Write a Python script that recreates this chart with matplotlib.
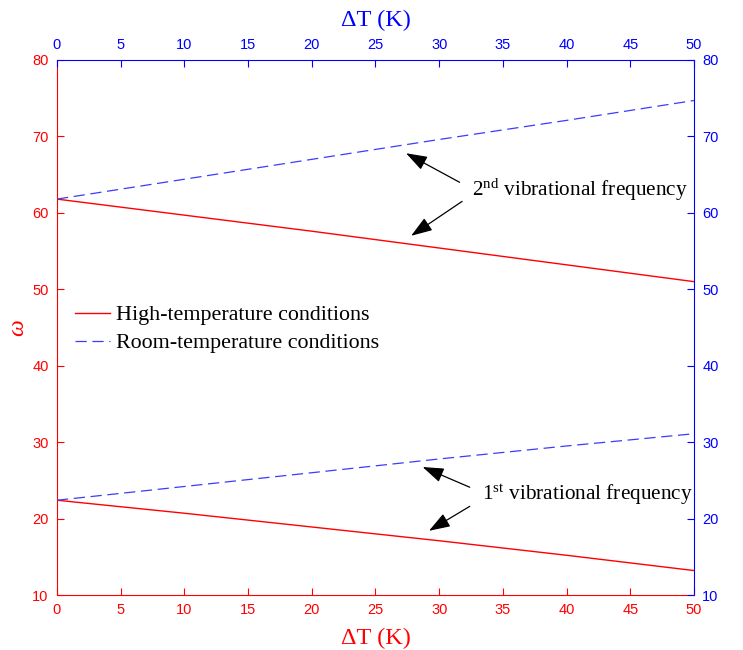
import matplotlib

matplotlib.use("Agg")
import matplotlib.pyplot as plt

plt.rcParams["mathtext.fontset"] = "custom"
plt.rcParams["mathtext.rm"] = "Liberation Serif"
plt.rcParams["mathtext.it"] = "Liberation Serif:italic"

# temperature rise (K) and vibrational frequencies
dT = [0, 10, 20, 30, 40, 50]
high_2nd = [61.8, 59.7, 57.6, 55.4, 53.2, 51.0]
room_2nd = [61.8, 64.4, 67.0, 69.6, 72.1, 74.7]
high_1st = [22.4, 20.7, 18.9, 17.1, 15.2, 13.2]
room_1st = [22.4, 24.2, 26.0, 27.8, 29.5, 31.1]

x_ticks = list(range(0, 55, 5))
y_ticks = list(range(10, 90, 10))

SERIF = "Liberation Serif"
SANS = "Liberation Sans"
BLUE_DASH = "#3b3bff"

fig = plt.figure(figsize=(7.43, 6.5), dpi=100)
rect = [0.0767, 0.0846, 0.8573, 0.8231]
ax = fig.add_axes(rect)
ax2 = fig.add_axes(rect, frameon=False)

l1, = ax.plot(dT, high_2nd, color="red", lw=1.0, label="High-temperature conditions")
ax.plot(dT, high_1st, color="red", lw=1.0)
l2, = ax2.plot(dT, room_2nd, color=BLUE_DASH, lw=0.9, ls=(0, (9, 4.5)),
               label="Room-temperature conditions")
ax2.plot(dT, room_1st, color=BLUE_DASH, lw=0.9, ls=(0, (9, 4.5)))

for a in (ax, ax2):
    a.set_xlim(0, 50)
    a.set_ylim(10, 80)
    a.set_xticks(x_ticks)
    a.set_yticks(y_ticks)

ax.tick_params(direction="in", length=5, colors="red", labelsize=10.5,
               top=False, right=False, pad=6)
ax2.xaxis.tick_top()
ax2.yaxis.tick_right()
ax2.xaxis.set_label_position("top")
ax2.yaxis.set_label_position("right")
ax2.tick_params(direction="in", length=5, colors="blue", labelsize=10.5,
                bottom=False, left=False, pad=6)
for lab in ax.get_xticklabels() + ax.get_yticklabels() + \
        ax2.get_xticklabels() + ax2.get_yticklabels():
    lab.set_family(SANS)

ax.spines["left"].set_color("red")
ax.spines["bottom"].set_color("red")
ax.spines["top"].set_color("blue")
ax.spines["right"].set_color("blue")

ax.set_xlabel("ΔT (K)", color="red", family=SERIF, fontsize=17.5)
ax2.set_xlabel("ΔT (K)", color="blue", family=SERIF, fontsize=17.5)
ax.xaxis.set_label_coords(0.5, -0.062)
ax2.xaxis.set_label_coords(0.5, 1.063)
ax.set_ylabel("ω", color="red", family=SERIF, style="italic", fontsize=17,
              rotation=90)
ax2.set_ylabel("ω", color="blue", family=SERIF, style="italic", fontsize=17,
               rotation=90)
ax.yaxis.set_label_coords(-0.045, 0.5)
ax2.yaxis.set_label_coords(1.074, 0.5)

leg = fig.legend(handles=[l1, l2], loc="upper left",
                 bbox_to_anchor=(75 / 743, 1 - 305 / 650),
                 bbox_transform=fig.transFigure,
                 frameon=False, prop={"family": SERIF, "size": 15.8},
                 handlelength=1.6, handletextpad=0.25, labelspacing=0.35,
                 borderpad=0, borderaxespad=0)

arrow = dict(arrowstyle="-|>,head_length=1.3,head_width=0.45", color="black",
             lw=0.9, shrinkA=0, shrinkB=0)

ax.text(32.6, 63.0, "2$^{\\mathrm{nd}}$ vibrational frequency", family=SERIF,
        fontsize=15.3, va="center", ha="left")
ax.annotate("", xy=(27.4, 67.8), xytext=(31.6, 64.0), arrowprops=arrow)
ax.annotate("", xy=(27.8, 57.0), xytext=(31.8, 61.5), arrowprops=arrow)

ax.text(33.4, 23.1, "1$^{\\mathrm{st}}$ vibrational frequency", family=SERIF,
        fontsize=15.3, va="center", ha="left")
ax.annotate("", xy=(28.7, 26.75), xytext=(32.4, 24.1), arrowprops=arrow)
ax.annotate("", xy=(29.2, 18.4), xytext=(32.4, 21.6), arrowprops=arrow)

fig.savefig("out.png", dpi=100)
